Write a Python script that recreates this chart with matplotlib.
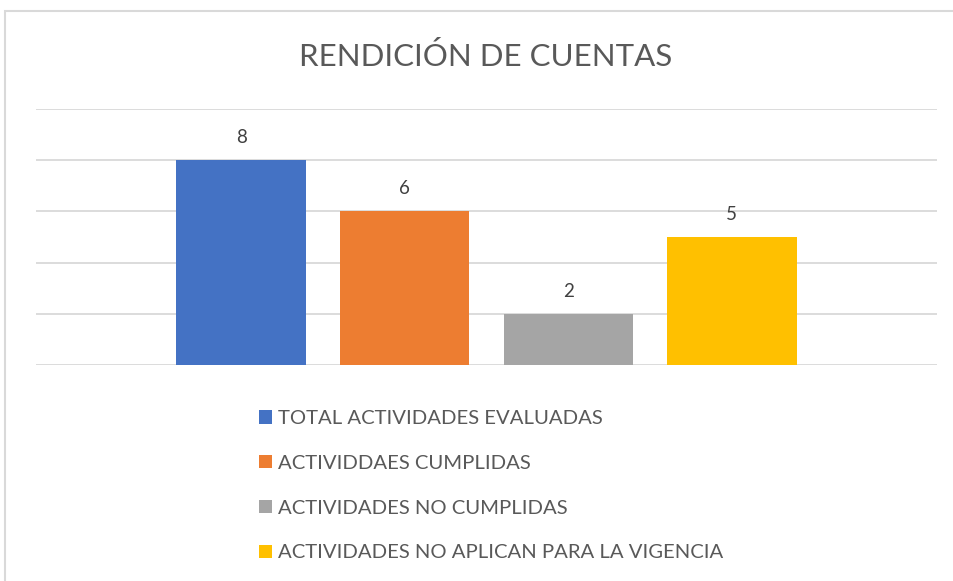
import matplotlib
matplotlib.use("Agg")
import matplotlib.pyplot as plt
from matplotlib.patches import Rectangle, Patch

# data
series = ["TOTAL ACTIVIDADES EVALUADAS", "ACTIVIDDAES CUMPLIDAS",
          "ACTIVIDADES NO CUMPLIDAS", "ACTIVIDADES NO APLICAN PARA LA VIGENCIA"]
values = [8, 6, 2, 5]
colors = ["#4472C4", "#ED7D31", "#A5A5A5", "#FFC000"]

plt.rcParams['font.family'] = ['Lato', 'DejaVu Sans']
txt = "#595959"

fig = plt.figure(figsize=(9.54, 5.81), dpi=100)
W, H = 954, 581

# chart border
fig.patches.append(Rectangle((5.5 / W, -0.1), 1.2, 1 - 10.5 / H + 0.1,
                             transform=fig.transFigure, fill=False,
                             edgecolor="#d9d9d9", linewidth=1.5))

ax = fig.add_axes([36 / W, (H - 365) / H, 901 / W, 256 / H])

w = 1.0
gap = 0.264
xs = [i * (w + gap) for i in range(len(values))]
bars = ax.bar(xs, values, width=w, color=colors, zorder=3)
for x, v in zip(xs, values):
    ax.text(x, v + 0.55, str(v), ha="center", va="bottom", fontsize=13.5, color="#404040")

mid = (xs[0] + xs[-1]) / 2
half = 901 / 129.4 / 2
ax.set_xlim(mid - half, mid + half)
ax.set_ylim(0, 10)
ax.set_yticks(range(0, 11, 2))
ax.yaxis.grid(True, color="#d9d9d9", linewidth=1.3, zorder=0)
ax.set_xticks([])
ax.tick_params(left=False, labelleft=False)
for s in ax.spines.values():
    s.set_visible(False)

fig.text(486 / W, 1 - 56 / H, "RENDICIÓN DE CUENTAS", ha="center", va="center",
         fontsize=22.5, color=txt)

handles = [Patch(facecolor=c, edgecolor="none") for c in colors]
leg = fig.legend(handles, series, loc="upper left", bbox_to_anchor=(259 / W, 1 - 410 / H),
                 frameon=False, fontsize=14.6, labelcolor=txt, handlelength=0.64,
                 handleheight=0.64, handletextpad=0.3, labelspacing=1.37,
                 borderpad=0, borderaxespad=0)

fig.savefig("out.png", dpi=100, facecolor="white")
